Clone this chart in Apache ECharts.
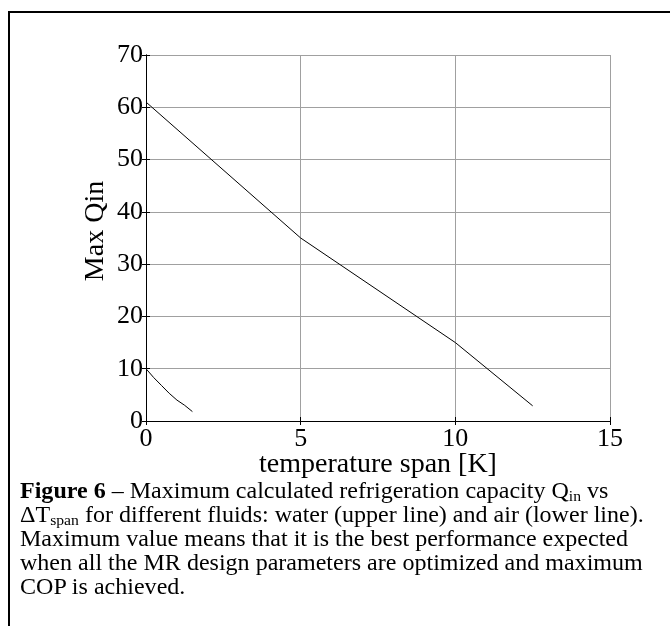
<!DOCTYPE html>
<html>
<head>
<meta charset="utf-8">
<script src="https://cdn.jsdelivr.net/npm/echarts@6/dist/echarts.min.js"></script>
<style>
html,body{margin:0;padding:0;background:#fff;}
#chart{position:absolute;left:0;top:0;width:670px;height:626px;}
#cap{position:absolute;left:20px;top:479px;width:650px;font-family:"Liberation Serif","Times New Roman",serif;font-size:23px;line-height:24px;color:#000;white-space:nowrap;transform:scaleX(1.045);transform-origin:0 0;}
#cap sub{font-size:15px;vertical-align:-3px;line-height:0;}
</style>
</head>
<body>
<div id="chart"></div>
<div id="cap"><b>Figure 6</b> – Maximum calculated refrigeration capacity Q<sub>in</sub> vs<br>ΔT<sub>span</sub> for different fluids: water (upper line) and air (lower line).<br>Maximum value means that it is the best performance expected<br>when all the MR design parameters are optimized and maximum<br>COP is achieved.</div>
<script>
// Data
const waterX = [0, 5, 10, 12.5];
const waterY = [61, 35, 15, 2.9];
const airX = [0, 0.25, 0.5, 0.75, 1, 1.25, 1.5];
const airY = [10, 8.3, 6.8, 5.3, 4.0, 3.0, 1.8];
const xTicks = [0, 5, 10, 15];
const yTicks = [0, 10, 20, 30, 40, 50, 60, 70];
const xLabel = 'temperature span [K]';
const yLabel = 'Max Qin';

const font = '"Liberation Serif","Times New Roman",serif';
const chart = echarts.init(document.getElementById('chart'), null, {renderer: 'canvas'});
const pairs = (xs, ys) => xs.map((x, i) => [x, ys[i]]);

chart.setOption({
  animation: false,
  backgroundColor: '#fff',
  grid: {left: 146, top: 55, width: 464, height: 366, show: false},
  graphic: [{
    type: 'polyline',
    shape: {points: [[9, 626], [9, 12], [670, 12]]},
    style: {stroke: '#000', lineWidth: 2, fill: null},
    z: 100
  }, {
    type: 'text', x: 96, y: 231, rotation: Math.PI / 2,
    style: {text: yLabel, font: '28px ' + font, fill: '#000', align: 'center', verticalAlign: 'middle'},
    z: 100
  }, {
    type: 'text', x: 378, y: 465,
    style: {text: xLabel, font: '28px ' + font, fill: '#000', align: 'center', verticalAlign: 'middle'},
    z: 100
  }],
  xAxis: [{
    type: 'value', min: xTicks[0], max: xTicks[xTicks.length - 1], interval: 5,
    axisLine: {show: true, lineStyle: {color: '#000', width: 1}},
    axisTick: {show: true, inside: true, length: 4, lineStyle: {color: '#000'}},
    axisLabel: {fontFamily: font, fontSize: 26, color: '#000', margin: 5},
    splitLine: {show: true, lineStyle: {color: '#a0a0a0', width: 1}}
  }, {
    type: 'value', position: 'top', min: 0, max: 15, interval: 5,
    axisLine: {show: true, lineStyle: {color: '#000', width: 1}},
    axisTick: {show: true, inside: true, length: 4, lineStyle: {color: '#000'}},
    axisLabel: {show: false}, splitLine: {show: false}
  }],
  yAxis: [{
    type: 'value', min: yTicks[0], max: yTicks[yTicks.length - 1], interval: 10,
    axisLine: {show: true, lineStyle: {color: '#000', width: 1}},
    axisTick: {show: true, inside: true, length: 4, lineStyle: {color: '#000'}},
    axisLabel: {fontFamily: font, fontSize: 26, color: '#000', margin: 3},
    splitLine: {show: true, lineStyle: {color: '#a0a0a0', width: 1}}
  }, {
    type: 'value', position: 'right', min: 0, max: 70, interval: 10,
    axisLine: {show: true, lineStyle: {color: '#000', width: 1}},
    axisTick: {show: true, inside: true, length: 4, lineStyle: {color: '#000'}},
    axisLabel: {show: false}, splitLine: {show: false}
  }],
  series: [{
    type: 'line', data: pairs(waterX, waterY), showSymbol: false,
    lineStyle: {color: '#000', width: 1}, z: 5
  }, {
    type: 'line', data: pairs(airX, airY), showSymbol: false,
    lineStyle: {color: '#000', width: 1}, z: 5
  }]
});
</script>
</body>
</html>
